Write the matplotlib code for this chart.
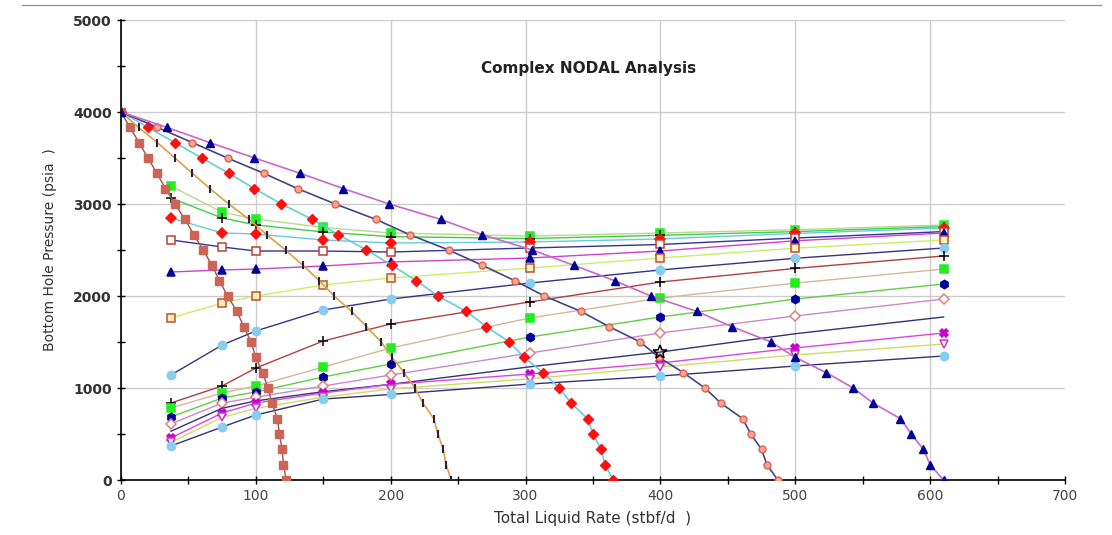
import matplotlib
matplotlib.use("Agg")
import matplotlib.pyplot as plt
from matplotlib.lines import Line2D
from matplotlib.ticker import MultipleLocator

# --- inflow (IPR) curves: common pressure points, rate per curve
p_ipr = [4000, 3833, 3667, 3500, 3333, 3167, 3000, 2833, 2667, 2500, 2333, 2167,
         2000, 1833, 1667, 1500, 1333, 1167, 1000, 833, 667, 500, 333, 167, 0]
q_ipr_a = [0, 6.7, 13.4, 20, 26.7, 33, 40, 47.5, 54, 61, 67.5, 73,
           79, 86, 91, 96.5, 100, 105, 109, 112, 116, 117.5, 119.5, 120.5, 122.5]
q_ipr_b = [0, 13, 27, 40, 53, 66, 80, 95, 108, 122, 135, 147,
           158, 171, 182, 193, 201, 210, 218, 224, 232, 235, 239, 241, 245]
q_ipr_c = [0, 20, 40, 60, 80, 99, 119, 142, 161, 182, 201, 219,
           235, 256, 271, 288, 299, 313, 325, 334, 346, 350, 356, 359, 365]
q_ipr_d = [0, 27, 53, 79, 106, 131, 159, 189, 214, 243, 268, 292,
           314, 341, 362, 385, 399, 417, 433, 445, 461, 467, 475, 479, 487]
q_ipr_e = [0, 34, 66, 99, 133, 165, 199, 237, 268, 305, 336, 366,
           393, 427, 453, 482, 500, 523, 543, 558, 578, 586, 595, 600, 610]

# --- outflow (TPR) curves: common rates, pressure per curve
q_tpr = [37, 75, 100, 150, 200, 303, 400, 500, 610]
p_tpr_1 = [3196, 2910, 2837, 2745, 2685, 2652, 2685, 2720, 2772]
p_tpr_2 = [3065, 2848, 2772, 2696, 2645, 2625, 2660, 2700, 2755]
p_tpr_3 = [2848, 2685, 2674, 2609, 2576, 2587, 2620, 2680, 2739]
p_tpr_4 = [2609, 2533, 2489, 2489, 2478, 2522, 2560, 2630, 2700]
p_tpr_5 = [2261, 2283, 2293, 2326, 2370, 2413, 2489, 2600, 2685]
p_tpr_6 = [1761, 1924, 2000, 2120, 2196, 2304, 2413, 2520, 2609]
p_tpr_7 = [1141, 1467, 1620, 1848, 1967, 2141, 2283, 2410, 2522]
p_tpr_8 = [837, 1022, 1217, 1511, 1696, 1935, 2152, 2300, 2435]
p_tpr_9 = [783, 946, 1022, 1228, 1435, 1761, 1978, 2140, 2293]
p_tpr_10 = [685, 891, 957, 1120, 1261, 1554, 1772, 1967, 2130]
p_tpr_11 = [609, 837, 900, 1022, 1141, 1380, 1598, 1783, 1967]
p_tpr_12 = [530, 780, 860, 960, 1040, 1230, 1391, 1590, 1772]
p_tpr_13 = [457, 728, 837, 946, 1040, 1152, 1272, 1435, 1598]
p_tpr_14 = [410, 680, 780, 900, 990, 1100, 1228, 1359, 1478]
p_tpr_15 = [370, 576, 707, 880, 930, 1043, 1130, 1239, 1348]

# operating point marked with a star
op_q = [400]
op_p = [1391]

tpr_list = [p_tpr_1, p_tpr_2, p_tpr_3, p_tpr_4, p_tpr_5, p_tpr_6, p_tpr_7, p_tpr_8,
            p_tpr_9, p_tpr_10, p_tpr_11, p_tpr_12, p_tpr_13, p_tpr_14, p_tpr_15]

# styles: line color, marker, face, edge, size
tpr_style = [
    ("#b8d890", "s", "#22ee22", "#22ee22", 5.5),
    ("#44cc44", "+", "k", "k", 7),
    ("#66ccdd", "D", "#ff1010", "#ff1010", 5),
    ("#333399", "s", "white", "#c04030", 5.5),
    ("#cc44cc", "^", "#000099", "#000099", 5.5),
    ("#ccee66", "s", "#fff0c0", "#c05030", 5.5),
    ("#333388", "o", "#88ccee", "#88ccee", 6),
    ("#b04040", "+", "k", "k", 7),
    ("#d4b896", "s", "#22ee22", "#22ee22", 5.5),
    ("#66cc44", "h", "#000099", "#000099", 6),
    ("#cc88cc", "D", "white", "#e08080", 5.5),
    ("#333377", "", "none", "none", 0),
    ("#dd44dd", "X", "#cc00cc", "#cc00cc", 6),
    ("#ccdd66", "v", "white", "#cc33cc", 6),
    ("#333377", "o", "#88ccee", "#88ccee", 6),
]

fig = plt.figure(figsize=(11.12, 5.35), dpi=100)
ax = fig.add_axes([0.1088, 0.1028, 0.8489, 0.8598])

for p, (lc, mk, mf, me, ms) in zip(tpr_list, tpr_style):
    ax.plot(q_tpr, p, color=lc, lw=1.0, marker=mk if mk else None,
            markerfacecolor=mf, markeredgecolor=me, markersize=ms,
            markeredgewidth=1.1, zorder=3)

ax.plot(op_q, op_p, linestyle="none", marker="*", color="k", markersize=10,
        markerfacecolor="none", markeredgewidth=1.1, zorder=6)

# inflow curves on top
ax.plot(q_ipr_a, p_ipr, color="#a05050", lw=1.0, marker="s", markersize=5.5,
        markerfacecolor="#cd6458", markeredgecolor="#cd6458", zorder=4)
ax.plot(q_ipr_b, p_ipr, color="#e0a040", lw=1.2, marker="|", markersize=6,
        markeredgecolor="#222244", markeredgewidth=1.5, zorder=4)
ax.plot(q_ipr_c, p_ipr, color="#66ccdd", lw=1.2, marker="D", markersize=5,
        markerfacecolor="#ff1010", markeredgecolor="#ff1010", zorder=4)
ax.plot(q_ipr_d, p_ipr, color="#444488", lw=1.2, marker="o", markersize=5,
        markerfacecolor="#f4a890", markeredgecolor="#e06050", zorder=4)
ax.plot(q_ipr_e, p_ipr, color="#cc66cc", lw=1.2, marker="^", markersize=5.5,
        markerfacecolor="#000099", markeredgecolor="#000099", zorder=4)

ax.set_xlim(0, 700)
ax.set_ylim(0, 5000)
ax.xaxis.set_major_locator(MultipleLocator(100))
ax.xaxis.set_minor_locator(MultipleLocator(50))
ax.yaxis.set_major_locator(MultipleLocator(1000))
ax.yaxis.set_minor_locator(MultipleLocator(500))
ax.tick_params(which="both", direction="inout", length=6, width=1, colors="k")
ax.tick_params(axis="x", labelsize=10, labelcolor="#444444")
ax.tick_params(axis="y", labelsize=10, labelcolor="#333333")
for t in ax.get_yticklabels():
    t.set_fontweight("bold")
ax.grid(True, which="major", color="#cccccc", lw=1)
ax.set_axisbelow(True)
ax.spines["top"].set_visible(False)
ax.spines["right"].set_visible(False)
ax.spines["left"].set_linewidth(1.2)
ax.spines["bottom"].set_linewidth(1.2)

ax.set_xlabel("Total Liquid Rate (stbf/d  )", fontsize=11, color="#333333", labelpad=6)
ax.set_ylabel("Bottom Hole Pressure (psia  )", fontsize=10, color="#333333", labelpad=12)
ax.text(0.495, 0.895, "Complex NODAL Analysis", transform=ax.transAxes,
        ha="center", va="center", fontsize=11, fontweight="bold", color="#222222")

fig.add_artist(Line2D([0.02, 0.99], [0.99, 0.99], color="#999999", lw=1))

# no vertical gridline on the right edge (700)
fig.canvas.draw()
for tick in ax.xaxis.get_major_ticks():
    if tick.get_loc() >= 700:
        tick.gridline.set_visible(False)

fig.savefig("out.png", dpi=100)
